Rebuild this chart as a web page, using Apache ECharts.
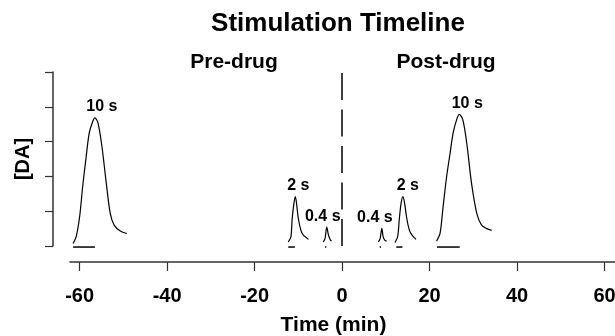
<!DOCTYPE html>
<html>
<head>
<meta charset="utf-8">
<script src="https://cdn.jsdelivr.net/npm/echarts@6/dist/echarts.min.js"></script>
<style>
  html, body { margin: 0; padding: 0; background: #fff; }
  #main { width: 615px; height: 336px; }
</style>
</head>
<body>
<div id="main"></div>
<script>
// x ticks (min)
var xTicks = [-60, -40, -20, 0, 20, 40, 60];

// labels of each stimulation
var stimLabels = ['10 s', '2 s', '0.4 s', '0.4 s', '2 s', '10 s'];

// [DA] traces: [time (min), value]
var pre10 = [[-61.5, 0.07], [-60.8, 0.26], [-60.0, 0.84], [-59.3, 1.71], [-58.5, 2.57], [-57.8, 3.25], [-57.0, 3.58], [-56.5, 3.68], [-55.8, 3.54], [-54.9, 2.86], [-53.9, 1.80], [-53.0, 0.94], [-52.1, 0.60], [-50.7, 0.43], [-49.2, 0.36]];
var pre2 = [[-12.3, 0.12], [-11.7, 0.26], [-11.4, 0.79], [-11.0, 1.23], [-10.7, 1.42], [-10.45, 1.27], [-10.0, 0.79], [-9.4, 0.45], [-8.85, 0.31], [-7.7, 0.19]];
var pre04 = [[-4.3, 0.12], [-3.9, 0.21], [-3.5, 0.54], [-3.1, 0.31], [-2.7, 0.18], [-2.4, 0.14]];
var post04 = [[8.3, 0.12], [8.7, 0.21], [9.1, 0.51], [9.4, 0.26], [9.8, 0.16], [10.2, 0.14]];
var post2 = [[12.1, 0.10], [12.7, 0.26], [13.1, 0.79], [13.5, 1.23], [13.9, 1.42], [14.25, 1.27], [14.8, 0.79], [15.4, 0.45], [16.0, 0.31], [16.9, 0.19]];
var post10 = [[21.6, 0.14], [22.4, 0.36], [23.1, 1.13], [23.9, 1.99], [24.7, 2.67], [25.4, 3.25], [26.2, 3.63], [26.8, 3.78], [27.6, 3.63], [28.5, 2.96], [29.6, 1.80], [30.8, 0.94], [31.9, 0.60], [33.1, 0.50], [34.2, 0.45]];

// stimulus bars: [start, end] (min), drawn just under baseline
var stimBars = [[-61.5, -56.5], [-12.3, -10.8], [-3.9, -3.6], [8.6, 8.9], [12.4, 13.8], [21.7, 26.9]];
var barLevel = -0.03;

var traces = [pre10, pre2, pre04, post04, post2, post10];
var labelDx = [7, 3, -4, -7, 5, 8]; // label nudges (px)

var font = 'Liberation Sans, Arial, sans-serif';
var myChart = echarts.init(document.getElementById('main'));

var series = [];
traces.forEach(function (tr, i) {
    series.push({
        type: 'line',
        data: tr,
        smooth: 0.3,
        symbol: 'none',
        clip: false,
        lineStyle: { color: '#000', width: 1.2 },
        z: 3
    });
    // peak label
    var peak = tr.reduce(function (a, b) { return b[1] > a[1] ? b : a });
    series.push({
        type: 'scatter',
        data: [peak],
        symbolSize: 0,
        silent: true,
        itemStyle: { color: '#000', opacity: 1 },
        label: {
            show: true,
            position: 'top',
            distance: 3,
            offset: [labelDx[i], 0],
            formatter: stimLabels[i],
            color: '#000',
            fontFamily: font,
            fontWeight: 'bold',
            fontSize: 16
        }
    });
});
stimBars.forEach(function (b) {
    series.push({
        type: 'line',
        data: [[b[0], barLevel], [b[1], barLevel]],
        symbol: 'none',
        clip: false,
        lineStyle: { color: '#000', width: 1.5 }
    });
});
// drug divider
series.push({
    type: 'line',
    data: [],
    markLine: {
        silent: true,
        symbol: 'none',
        label: { show: false },
        lineStyle: { color: '#000', width: 1.5, type: [27, 9.5] },
        data: [[{ coord: [0, 0] }, { coord: [0, 5] }]]
    }
});

myChart.setOption({
    animation: false,
    grid: { left: 70, right: 0, top: 72, bottom: 90, outerBoundsMode: 'none' },
    xAxis: {
        type: 'value',
        min: -62.2,
        max: 62.4,
        offset: 16,
        axisLine: { show: true, onZero: false, lineStyle: { color: '#333', width: 1.5 } },
        axisTick: { show: true, length: 9, customValues: xTicks, lineStyle: { color: '#333', width: 1.2 } },
        axisLabel: {
            customValues: xTicks,
            margin: 24,
            color: '#000',
            fontFamily: font,
            fontWeight: 'bold',
            fontSize: 20
        },
        splitLine: { show: false },
        name: 'Time (min)',
        nameLocation: 'middle',
        nameGap: 53,
        nameTextStyle: { color: '#000', fontFamily: font, fontWeight: 'bold', fontSize: 21, padding: [0, 18, 0, 0] }
    },
    yAxis: {
        type: 'value',
        min: 0,
        max: 5,
        interval: 1,
        offset: 17,
        axisLine: { show: true, onZero: false, lineStyle: { color: '#333', width: 1.5 } },
        axisTick: { show: true, length: 8, lineStyle: { color: '#333', width: 1.2 } },
        axisLabel: { show: false },
        splitLine: { show: false },
        name: '[DA]',
        nameLocation: 'middle',
        nameGap: 20,
        nameTextStyle: { color: '#000', fontFamily: font, fontWeight: 'bold', fontSize: 20 }
    },
    graphic: [
        { type: 'text', x: 338, y: 24, style: { text: 'Stimulation Timeline', align: 'center', verticalAlign: 'middle', fill: '#000', font: 'bold 26px ' + font } },
        { type: 'text', x: 234, y: 62, style: { text: 'Pre-drug', align: 'center', verticalAlign: 'middle', fill: '#000', font: 'bold 21px ' + font } },
        { type: 'text', x: 446, y: 62, style: { text: 'Post-drug', align: 'center', verticalAlign: 'middle', fill: '#000', font: 'bold 21px ' + font } }
    ],
    series: series
});
</script>
</body>
</html>
